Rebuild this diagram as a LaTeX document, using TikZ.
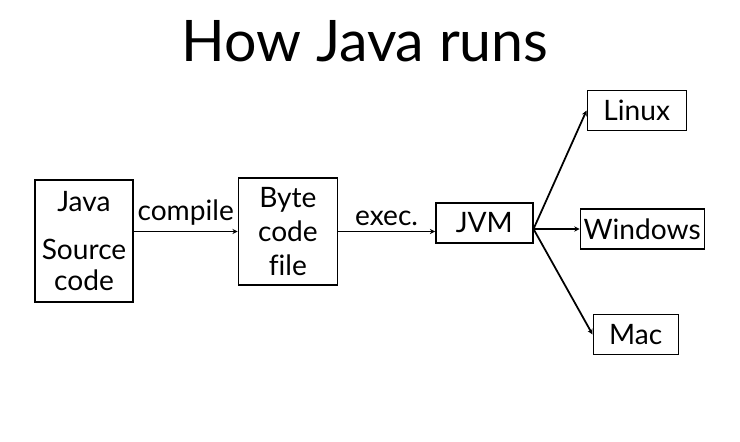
\documentclass[tikz,border=0pt]{standalone}
\usepackage{fontspec}
\setmainfont[Ligatures=NoCommon]{Lato}
\usetikzlibrary{positioning, arrows.meta, calc}
\tikzset{
  box/.style={rectangle, draw=black, line width=0.8pt, inner sep=0pt, text centered, align=center},
  arrow/.style={line width=1pt, -{Stealth[length=3pt, width=3pt]}},
  lbl/.style={above, inner sep=3pt}
}

\begin{document}
\begin{tikzpicture}[
        node distance=2cm,
        every node/.style={font=\fontsize{16}{19}\selectfont}
    ]
        \useasboundingbox (0,0) rectangle (14.8,-8.84);

        % --- Titulo ---
        \node (titulo) [anchor=base, font=\fontsize{32.6}{38}\selectfont] at (7.3,-1.24) {How Java runs};

        % --- Cadena principal ---
        \node (fuente) [box, minimum width=1.96cm, minimum height=2.44cm, font=\fontsize{16}{17.5}\selectfont] at (1.68,-4.82) {Java\\[10pt]Source\\code};
        \node (bytecode) [box, right=2.08cm of fuente, yshift=0.19cm, minimum width=1.98cm, minimum height=2.14cm, font=\fontsize{16}{19.3}\selectfont] {Byte\\code\\file};
        \node (jvm) [box, right=1.94cm of bytecode, yshift=0.17cm, minimum width=1.94cm, minimum height=0.8cm] {JVM};

        % --- Sistemas a la derecha ---
        \node (windows) [box, right=0.92cm of jvm, yshift=-0.12cm, minimum width=2.48cm, minimum height=0.8cm] {Windows};
        \node (linux) [box, above=1.54cm of windows, xshift=-0.11cm, minimum width=1.98cm, minimum height=0.8cm] {Linux};
        \node (mac) [box, below=1.28cm of windows, xshift=-0.13cm, minimum width=1.7cm, minimum height=0.8cm] {Mac};

        % --- Conexiones ---
        \draw [arrow] (fuente.east |- bytecode) -- node[lbl]{compile} (bytecode.west);
        \draw [arrow] (bytecode.east) -- node[lbl]{exec.} (bytecode.east -| jvm.west);

        % punto de salida de la JVM, un poco bajo el centro
        \coordinate (salida) at ([yshift=-0.12cm]jvm.east);
        \draw [arrow] (salida) -- (linux.west);
        \draw [arrow] (salida) -- (windows.west);
        \draw [arrow] (salida) -- (mac.west);

    \end{tikzpicture}
\end{document}
